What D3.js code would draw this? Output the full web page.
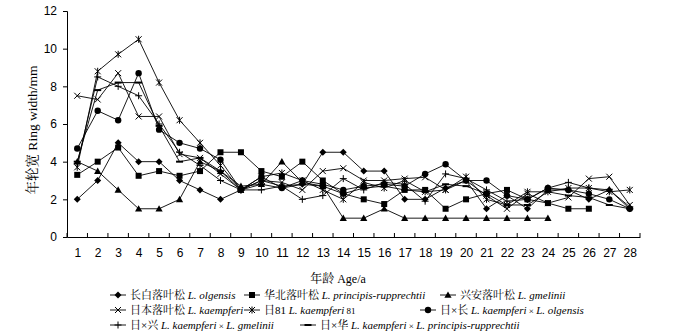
<!DOCTYPE html>
<html>
<head>
<meta charset="utf-8">
<script src="https://cdn.jsdelivr.net/npm/d3@7"></script>
<style>
  body { margin: 0; background: #fff; }
  svg { display: block; }
</style>
</head>
<body>
<div id="chart"></div>
<script>
// ages on the x axis
const ages = d3.range(1, 29);
const yTicks = [0, 2, 4, 6, 8, 10, 12];

// ring width (mm) per age
const changbai = [2.0, 3.0, 5.0, 4.0, 4.0, 3.0, 2.5, 2.0, 2.5, 3.0, 2.7, 2.8, 4.5, 4.5, 3.5, 3.5, 2.0, 2.0, 2.6, 3.0, 1.5, 2.2, 1.5, 2.5, 2.5, 2.0, 2.5, 1.5];
const huabei = [3.3, 4.0, 4.75, 3.25, 3.5, 3.25, 3.5, 4.5, 4.5, 3.5, 3.2, 4.0, 3.0, 2.3, 2.0, 1.75, 2.5, 2.5, 1.5, 2.0, 2.3, 2.5, 2.0, 1.8, 1.5, 1.5];
const xingan = [4.0, 3.5, 2.5, 1.5, 1.5, 2.0, 4.0, 3.5, 2.7, 2.8, 4.0, 2.9, 2.7, 1.0, 1.0, 1.5, 1.0, 1.0, 1.0, 1.0, 1.0, 1.0, 1.0, 1.0];
const riben = [7.5, 7.3, 8.7, 6.4, 6.4, 4.4, 4.2, 3.35, 2.5, 3.0, 2.9, 2.5, 3.5, 3.65, 3.0, 3.0, 3.1, 3.17, 2.5, 3.0, 2.2, 1.5, 2.3, 1.8, 2.1, 3.1, 3.2, 1.7];
const ri81 = [3.7, 8.8, 9.7, 10.5, 8.2, 6.2, 5.0, 3.8, 2.5, 3.2, 3.4, 3.0, 2.5, 2.0, 2.9, 2.6, 3.0, 2.4, 2.5, 3.2, 2.0, 1.7, 2.4, 2.4, 2.6, 2.6, 2.4, 2.5];
const riChang = [4.7, 6.7, 6.2, 8.7, 5.7, 5.0, 4.7, 4.1, 2.5, 3.2, 2.6, 3.0, 2.8, 2.5, 2.7, 2.8, 2.7, 3.35, 3.86, 3.0, 3.0, 2.2, 2.0, 2.6, 2.5, 2.3, 2.0, 1.5];
const riXing = [3.9, 8.5, 8.0, 7.5, 6.0, 4.5, 3.8, 3.0, 2.5, 2.5, 2.7, 2.0, 2.2, 3.1, 2.5, 2.9, 2.8, 1.9, 3.35, 3.1, 2.5, 1.9, 2.0, 2.6, 2.9, 2.6, 2.5, 1.6];
const riHua = [4.0, 7.8, 8.2, 8.2, 5.9, 4.0, 4.2, 3.5, 2.5, 2.8, 2.6, 2.8, 2.7, 2.3, 2.6, 2.7, 2.5, 2.4, 2.8, 2.7, 2.3, 1.7, 1.7, 2.4, 2.2, 2.1, 1.7, 1.5];

const series = [
  { cn: "长白落叶松 ", latin: [["L. olgensis", true]], marker: "diamond", values: changbai },
  { cn: "华北落叶松 ", latin: [["L. principis-rupprechtii", true]], marker: "square", values: huabei },
  { cn: "兴安落叶松 ", latin: [["L. gmelinii", true]], marker: "triangle", values: xingan },
  { cn: "日本落叶松 ", latin: [["L. kaempferi", true]], marker: "x", values: riben },
  { cn: "日81 ", latin: [["L. kaempferi", true], [" 81", false]], marker: "star", values: ri81 },
  { cn: "日×长 ", latin: [["L. kaempferi", true], [" × ", false], ["L. olgensis", true]], marker: "circle", values: riChang },
  { cn: "日×兴 ", latin: [["L. kaempferi", true], [" × ", false], ["L. gmelinii", true]], marker: "plus", values: riXing },
  { cn: "日×华 ", latin: [["L. kaempferi", true], [" × ", false], ["L. principis-rupprechtii", true]], marker: "dash", values: riHua }
];

const width = 681, height = 333;
const margin = { top: 11, right: 41, bottom: 96, left: 67 };
const fontFamily = "'Liberation Serif', 'Times New Roman', 'Noto Serif CJK SC', 'Noto Sans CJK SC', serif";

const svg = d3.select("#chart").append("svg")
  .attr("width", width)
  .attr("height", height)
  .style("font-family", fontFamily);

svg.append("rect").attr("width", width).attr("height", height).attr("fill", "#fff");

const x = d3.scalePoint().domain(ages).range([margin.left, width - margin.right]).padding(0.5);
const xBand = d3.scaleBand().domain(ages).range([margin.left, width - margin.right]);
const y = d3.scaleLinear().domain([0, 12]).range([height - margin.bottom, margin.top]);

// axes
const yAxis = svg.append("g")
  .attr("transform", `translate(${margin.left},0)`)
  .call(d3.axisLeft(y).tickValues(yTicks).tickSize(4).tickPadding(6));
yAxis.selectAll("text").style("font-size", "12px").attr("fill", "#000");
yAxis.selectAll("line, path").attr("stroke", "#000");

const xAxis = svg.append("g")
  .attr("transform", `translate(0,${y(0)})`)
  .call(d3.axisBottom(x).tickSize(0).tickPadding(11));
xAxis.selectAll("text").style("font-size", "12px").attr("fill", "#000");
xAxis.select(".domain").attr("stroke", "#000");

// category-boundary tick marks pointing into the plot
svg.append("g").selectAll("line")
  .data(ages.concat(["end"]))
  .join("line")
  .attr("x1", d => d === "end" ? xBand.range()[1] : xBand(d))
  .attr("x2", d => d === "end" ? xBand.range()[1] : xBand(d))
  .attr("y1", y(0))
  .attr("y2", y(0) - 4)
  .attr("stroke", "#000");

// axis titles
svg.append("text")
  .attr("transform", `translate(37,${(y(0) + y(12)) / 2 + 6}) rotate(-90)`)
  .attr("text-anchor", "middle")
  .style("font-size", "13.5px")
  .text("年轮宽 Ring width/mm");

svg.append("text")
  .attr("x", 338)
  .attr("y", 283)
  .attr("text-anchor", "middle")
  .style("font-size", "12px")
  .text("年龄 Age/a");

// marker drawing
function drawMarker(g, type, cx, cy) {
  const s = 3;
  if (type === "diamond") {
    g.append("path").attr("d", `M${cx},${cy - 3.5}L${cx + 3.5},${cy}L${cx},${cy + 3.5}L${cx - 3.5},${cy}Z`).attr("fill", "#000");
  } else if (type === "square") {
    g.append("rect").attr("x", cx - 3).attr("y", cy - 3).attr("width", 6).attr("height", 6).attr("fill", "#000");
  } else if (type === "triangle") {
    g.append("path").attr("d", `M${cx},${cy - 3.6}L${cx + 3.6},${cy + 2.8}L${cx - 3.6},${cy + 2.8}Z`).attr("fill", "#000");
  } else if (type === "circle") {
    g.append("circle").attr("cx", cx).attr("cy", cy).attr("r", 3.2).attr("fill", "#000");
  } else if (type === "x") {
    g.append("path").attr("d", `M${cx - s},${cy - s}L${cx + s},${cy + s}M${cx - s},${cy + s}L${cx + s},${cy - s}`).attr("stroke", "#000").attr("stroke-width", 1);
  } else if (type === "star") {
    g.append("path").attr("d", `M${cx - s},${cy - s}L${cx + s},${cy + s}M${cx - s},${cy + s}L${cx + s},${cy - s}M${cx},${cy - s - 0.5}L${cx},${cy + s + 0.5}`).attr("stroke", "#000").attr("stroke-width", 1);
  } else if (type === "plus") {
    g.append("path").attr("d", `M${cx - 3.5},${cy}L${cx + 3.5},${cy}M${cx},${cy - 3.5}L${cx},${cy + 3.5}`).attr("stroke", "#000").attr("stroke-width", 1);
  } else if (type === "dash") {
    g.append("path").attr("d", `M${cx - 3.5},${cy}L${cx + 3.5},${cy}`).attr("stroke", "#000").attr("stroke-width", 2);
  }
}

const line = d3.line().x((d, i) => x(ages[i])).y(d => y(d));

series.forEach(s => {
  const g = svg.append("g");
  g.append("path")
    .attr("d", line(s.values))
    .attr("fill", "none")
    .attr("stroke", "#000")
    .attr("stroke-width", 0.9);
  s.values.forEach((v, i) => drawMarker(g, s.marker, x(ages[i]), y(v)));
});

// legend
const legendRows = [
  [{ s: 0, x: 110 }, { s: 1, x: 244 }, { s: 2, x: 440 }],
  [{ s: 3, x: 110 }, { s: 4, x: 244 }, { s: 5, x: 420 }],
  [{ s: 6, x: 110 }, { s: 7, x: 300 }]
];
const legendY = [299, 314, 329];

legendRows.forEach((row, r) => {
  row.forEach(item => {
    const s = series[item.s];
    const g = svg.append("g");
    const ly = legendY[r];
    g.append("line")
      .attr("x1", item.x).attr("x2", item.x + 16)
      .attr("y1", ly - 4).attr("y2", ly - 4)
      .attr("stroke", "#000").attr("stroke-width", 0.9);
    drawMarker(g, s.marker, item.x + 8, ly - 4);
    const t = g.append("text")
      .attr("x", item.x + 20)
      .attr("y", ly)
      .style("font-size", "11px");
    t.append("tspan").text(s.cn);
    s.latin.forEach(([txt, it]) => {
      t.append("tspan").style("font-style", it ? "italic" : "normal")
        .style("font-size", it ? "11px" : "9px")
        .text(txt);
    });
  });
});
</script>
</body>
</html>
